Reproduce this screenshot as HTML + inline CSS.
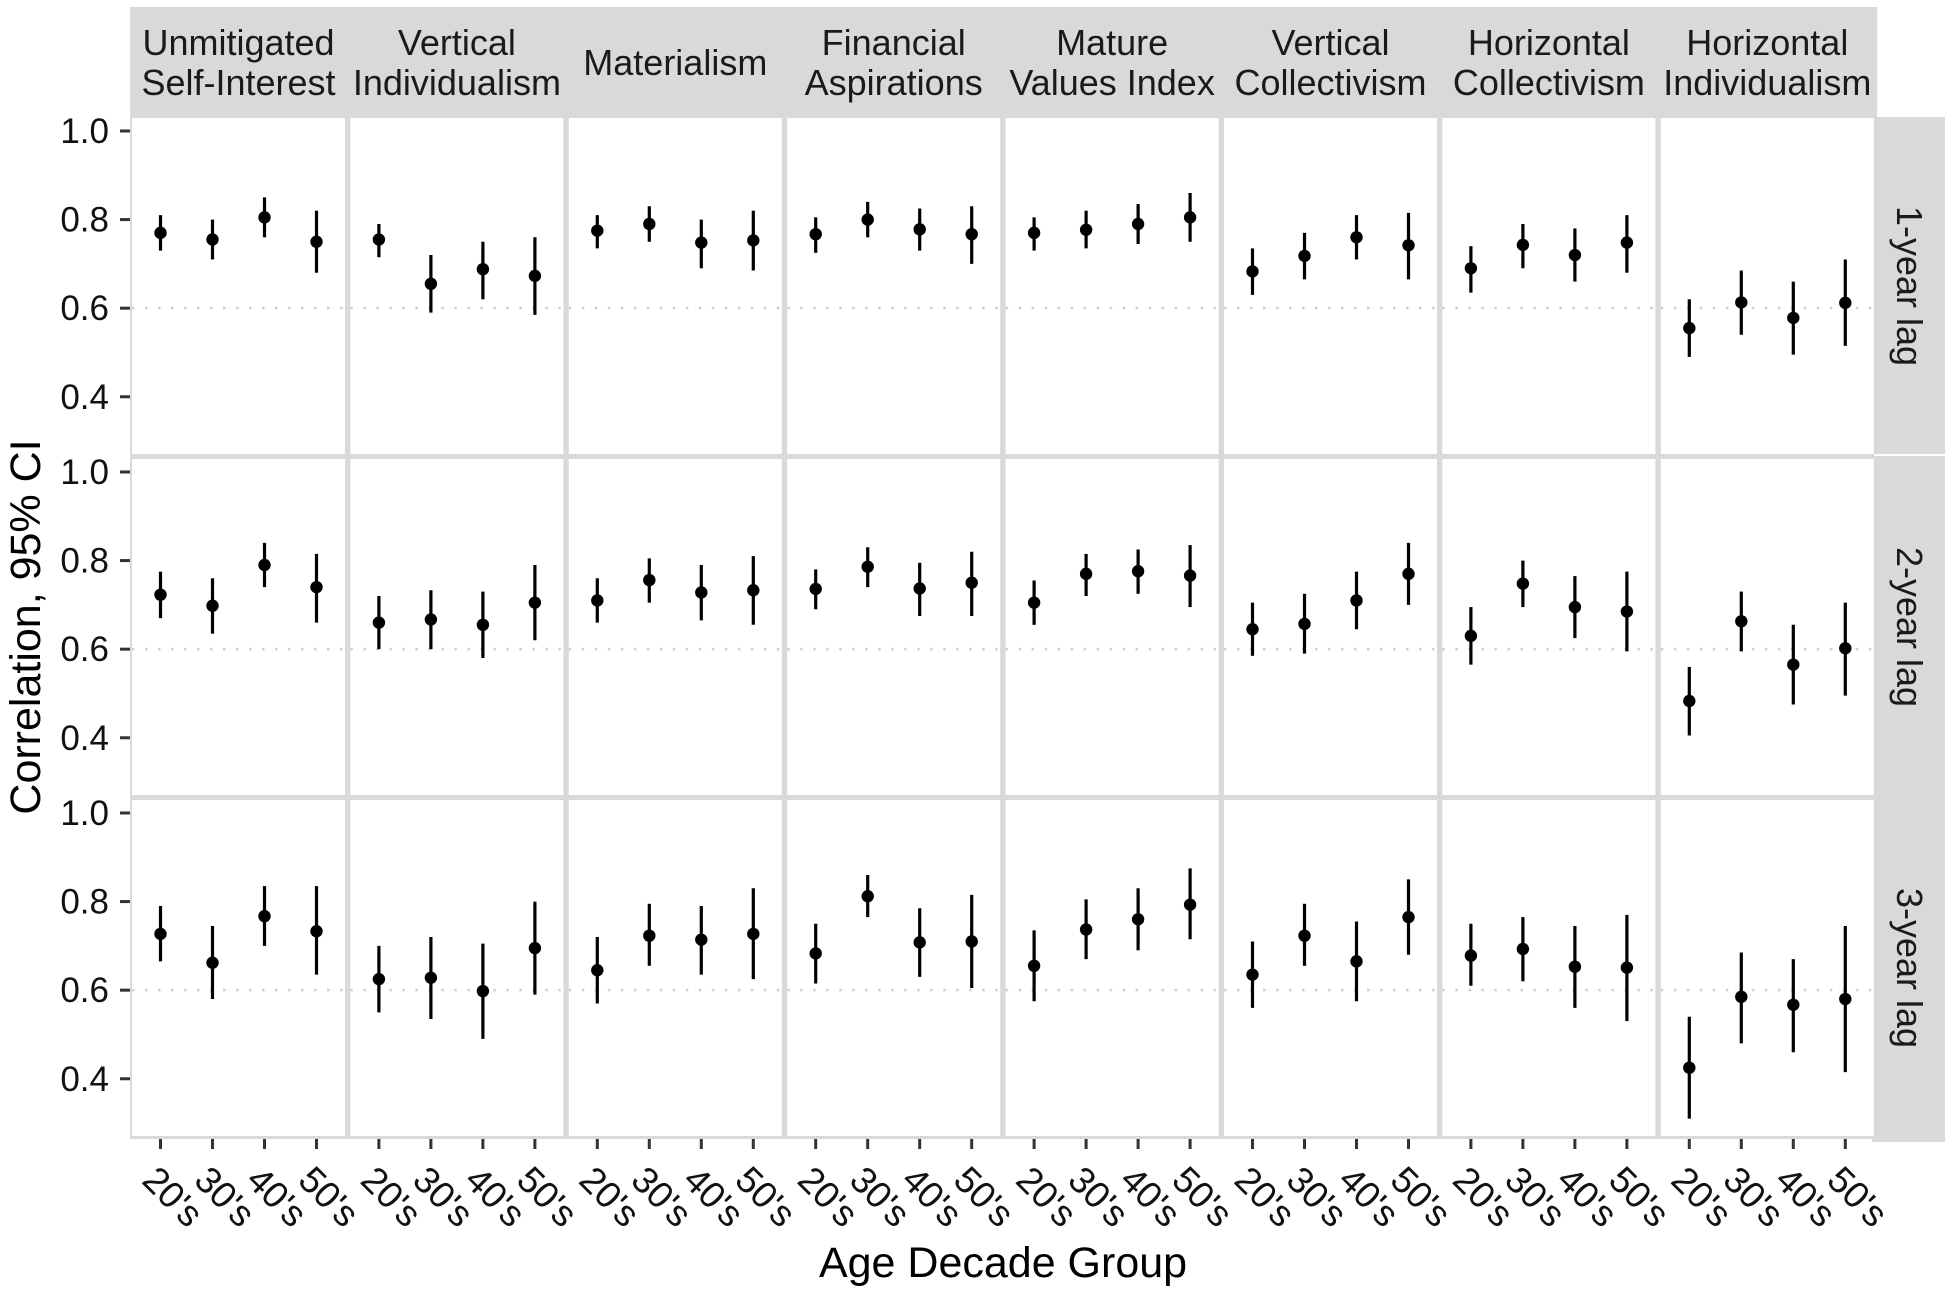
<!DOCTYPE html>
<html><head><meta charset="utf-8">
<style>
html,body{margin:0;padding:0;background:#fff;}
svg{display:block;font-family:"Liberation Sans",Arial,sans-serif;}
</style></head>
<body>
<svg id="chart" width="1952" height="1294" viewBox="0 0 1952 1294" xmlns="http://www.w3.org/2000/svg"></svg>
<script>
const facets = ["Unmitigated\nSelf-Interest","Vertical\nIndividualism","Materialism","Financial\nAspirations","Mature\nValues Index","Vertical\nCollectivism","Horizontal\nCollectivism","Horizontal\nIndividualism"];
const lags = ["1-year lag","2-year lag","3-year lag"];
const ageGroups = ["20's","30's","40's","50's"];
const yTicks = [0.4,0.6,0.8,1.0];
const yTickLabels = ["0.4","0.6","0.8","1.0"];
const refLine = 0.6;
const est1 = [[0.77,0.755,0.805,0.75],[0.755,0.655,0.688,0.673],[0.775,0.79,0.748,0.753],[0.767,0.80,0.778,0.767],[0.77,0.777,0.79,0.805],[0.683,0.718,0.76,0.742],[0.69,0.743,0.72,0.748],[0.555,0.613,0.578,0.612]];
const lo1 = [[0.73,0.71,0.76,0.68],[0.715,0.59,0.62,0.585],[0.735,0.75,0.69,0.685],[0.725,0.76,0.73,0.70],[0.73,0.735,0.745,0.75],[0.63,0.665,0.71,0.665],[0.635,0.69,0.66,0.68],[0.49,0.54,0.495,0.515]];
const hi1 = [[0.81,0.80,0.85,0.82],[0.79,0.72,0.75,0.76],[0.81,0.83,0.80,0.82],[0.805,0.84,0.825,0.83],[0.805,0.82,0.835,0.86],[0.735,0.77,0.81,0.815],[0.74,0.79,0.78,0.81],[0.62,0.685,0.66,0.71]];
const est2 = [[0.723,0.698,0.79,0.74],[0.66,0.667,0.655,0.705],[0.71,0.756,0.728,0.733],[0.736,0.786,0.737,0.75],[0.705,0.77,0.776,0.766],[0.645,0.657,0.71,0.77],[0.63,0.748,0.695,0.685],[0.483,0.663,0.565,0.602]];
const lo2 = [[0.67,0.635,0.74,0.66],[0.60,0.60,0.58,0.62],[0.66,0.705,0.665,0.655],[0.69,0.74,0.675,0.675],[0.655,0.72,0.725,0.695],[0.585,0.59,0.645,0.70],[0.565,0.695,0.625,0.595],[0.405,0.595,0.475,0.495]];
const hi2 = [[0.775,0.76,0.84,0.815],[0.72,0.733,0.73,0.79],[0.76,0.805,0.79,0.81],[0.78,0.83,0.795,0.82],[0.755,0.815,0.825,0.835],[0.705,0.725,0.775,0.84],[0.695,0.80,0.765,0.775],[0.56,0.73,0.655,0.705]];
const est3 = [[0.727,0.662,0.767,0.733],[0.625,0.628,0.598,0.695],[0.645,0.723,0.714,0.727],[0.683,0.812,0.708,0.71],[0.655,0.737,0.76,0.793],[0.635,0.723,0.665,0.765],[0.678,0.693,0.653,0.651],[0.425,0.585,0.567,0.58]];
const lo3 = [[0.665,0.58,0.70,0.635],[0.55,0.535,0.49,0.59],[0.57,0.655,0.635,0.625],[0.615,0.765,0.63,0.605],[0.575,0.67,0.69,0.715],[0.56,0.655,0.575,0.68],[0.61,0.62,0.56,0.53],[0.31,0.48,0.46,0.415]];
const hi3 = [[0.79,0.745,0.835,0.835],[0.70,0.72,0.705,0.80],[0.72,0.795,0.79,0.83],[0.75,0.86,0.785,0.815],[0.735,0.805,0.83,0.875],[0.71,0.795,0.755,0.85],[0.75,0.765,0.745,0.77],[0.54,0.685,0.67,0.745]];
const estAll=[est1,est2,est3], loAll=[lo1,lo2,lo3], hiAll=[hi1,hi2,hi3];

const NS="http://www.w3.org/2000/svg";
const svgEl=document.getElementById('chart');
function mk(tag,attrs,parent){const e=document.createElementNS(NS,tag);for(const k in attrs)e.setAttribute(k,attrs[k]);(parent||svgEl).appendChild(e);return e;}

const plotLeft=132, panelW=213, period=218.4, plotTop=118, rowH=336, rowPeriod=341;
const yMin=0.2708, yMax=1.0293;
function xPos(c,i){return plotLeft+c*period+(panelW-3*52)/2+i*52;}
function yPos(r,v){return plotTop+r*rowPeriod+(yMax-v)/(yMax-yMin)*rowH;}

const bg=mk('rect',{x:plotLeft-2,y:plotTop,width:1874-plotLeft+2,height:1139-plotTop,fill:'#d9d9d9'});



for(let c=0;c<facets.length;c++){
  const px=plotLeft+c*period;
  const st=mk('rect',{x:px-2,y:7,width:period+(c==7?0:1),height:plotTop-7,fill:'#d9d9d9'});
  
  
  const lines=facets[c].split('\n');
  const t=mk('text',{x:px+panelW/2,y:lines.length==2?55:75,'text-anchor':'middle','font-size':'36',fill:'#1a1a1a'});
  
  
  lines.forEach((ln,k)=>{const ts=mk('tspan',{x:px+panelW/2,dy:k==0?0:40},t);ts.textContent=ln;});
  for(let i=0;i<ageGroups.length;i++){
    const x=xPos(c,i);
    const tk=mk('line',{x1:x,x2:x,y1:1139,y2:1149,stroke:'#333','stroke-width':3});
    
    
    const lb=mk('text',{x:x-20,y:1182,'font-size':'37',fill:'#111',transform:`rotate(45 ${x-20} 1182)`});
    
    
    lb.textContent=ageGroups[i];
  }
}
for(let r=0;r<lags.length;r++){
  const py=plotTop+r*rowPeriod;
  const rs=mk('rect',{x:1872,y:py-(r==0?1:3),width:73,height:rowH+(r==0?1:6)+(r==2?3:0),fill:'#d9d9d9'});
  
  
  const cy=py+rowH/2;
  const lt=mk('text',{x:1897,y:cy,'text-anchor':'middle','font-size':'36',fill:'#1a1a1a',transform:`rotate(90 1897 ${cy})`});
  
  
  lt.textContent=lags[r];
  for(let k=0;k<yTicks.length;k++){
    const y=yPos(r,yTicks[k]);
    const tk=mk('line',{x1:120,x2:130,y1:y,y2:y,stroke:'#333','stroke-width':3});
    
    
    const tl=mk('text',{x:109,y:y+12,'text-anchor':'end','font-size':'35',fill:'#111'});
    
    
    tl.textContent=yTickLabels[k];
  }
  for(let c=0;c<facets.length;c++){
    const px=plotLeft+c*period;
    const pn=mk('rect',{x:px,y:py,width:panelW,height:rowH,fill:'#fff'});
    
    
    const ry=yPos(r,refLine);
    const rl=mk('line',{x1:px,x2:px+panelW,y1:ry,y2:ry,stroke:'#cfcfcf','stroke-width':2.5,'stroke-dasharray':'2.5 10.5'});
    
    
    for(let i=0;i<ageGroups.length;i++){
      const x=xPos(c,i);
      const eb=mk('line',{x1:x,x2:x,y1:yPos(r,loAll[r][c][i]),y2:yPos(r,hiAll[r][c][i]),stroke:'#000','stroke-width':3.2});
      
      
      const pt=mk('circle',{cx:x,cy:yPos(r,estAll[r][c][i]),r:6.2,fill:'#000'});
      
      
    }
  }
}
const yt=mk('text',{x:40,y:627,'text-anchor':'middle','font-size':'43',fill:'#000',transform:'rotate(-90 40 627)'});


yt.textContent='Correlation, 95% CI';
const xt=mk('text',{x:1003,y:1277,'text-anchor':'middle','font-size':'43',fill:'#000'});


xt.textContent='Age Decade Group';
</script>
</body></html>
